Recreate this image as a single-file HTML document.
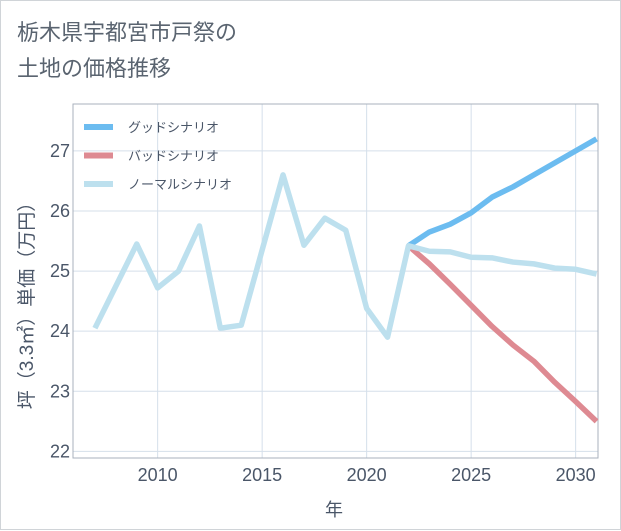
<!DOCTYPE html>
<html><head><meta charset="utf-8"><style>
html,body{margin:0;padding:0;background:#fff}
#wrap{position:relative;width:619px;height:528px;border:1px solid #d0d4d8;background:#fff;font-family:"Liberation Sans","Noto Sans CJK JP",sans-serif}
#title{position:absolute;left:16px;top:14px;font-size:22px;line-height:36px;color:#5a6470}
svg{position:absolute;left:0;top:0}
</style></head><body>
<div id="wrap">
<div id="title">栃木県宇都宮市戸祭の<br>土地の価格推移</div>
<svg id="chart" width="621" height="530"></svg>
</div>
<script>
const years=[2007,2008,2009,2010,2011,2012,2013,2014,2015,2016,2017,2018,2019,2020,2021,2022,2023,2024,2025,2026,2027,2028,2029,2030,2031];
const normal=[24.05,24.75,25.45,24.72,25.0,25.75,24.05,24.1,25.35,26.6,25.43,25.88,25.68,24.38,23.9,25.42,25.33,25.32,25.23,25.22,25.15,25.12,25.05,25.03,24.95];
const fcYears=[2022,2023,2024,2025,2026,2027,2028,2029,2030,2031];
const good=[25.42,25.65,25.78,25.97,26.23,26.4,26.6,26.8,27.0,27.2];
const bad=[25.42,25.12,24.78,24.43,24.08,23.77,23.5,23.15,22.83,22.5];
const xTicks=[2010,2015,2020,2025,2030];
const yTicks=[22,23,24,25,26,27];
const legendLabels=["グッドシナリオ","バッドシナリオ","ノーマルシナリオ"];
const NS="http://www.w3.org/2000/svg";
const svg=document.getElementById('chart');
const L=72,R=597,T=103,B=457,x0=2005.95,x1=2031.07,y0=21.89,y1=27.78;
const sx=v=>L+(v-x0)/(x1-x0)*(R-L);
const sy=v=>B-(v-y0)/(y1-y0)*(B-T);
function mk(tag,attrs){const e=document.createElementNS(NS,tag);for(const k in attrs)e.setAttribute(k,attrs[k]);svg.appendChild(e);return e;}
for(const t of xTicks){const g=mk('line',{x1:sx(t),x2:sx(t),y1:T,y2:B,stroke:'#d5dfea','stroke-width':1});


const tx=mk('text',{x:sx(t),y:B+23,'text-anchor':'middle','font-size':18,fill:'#4a5668'});tx.textContent=t;

}
for(const t of yTicks){const g=mk('line',{x1:L,x2:R,y1:sy(t),y2:sy(t),stroke:'#d5dfea','stroke-width':1});


const tx=mk('text',{x:L-3,y:sy(t)+6,'text-anchor':'end','font-size':18,fill:'#4a5668'});tx.textContent=t;

}
const fr=mk('rect',{x:L,y:T,width:R-L,height:B-T,fill:'none',stroke:'#a9b2bc','stroke-width':1});


function line(xs,ys,color,name){const p=mk('polyline',{points:xs.map((x,i)=>sx(x)+','+sy(ys[i])).join(' '),fill:'none',stroke:color,'stroke-width':5.5,'stroke-linejoin':'round'});

}
line(fcYears,bad,'#de8a92','bad-scenario-line');
line(fcYears,good,'#6cbcf0','good-scenario-line');
line(years,normal,'#bde0ee','normal-scenario-line');
const cols=['#6cbcf0','#de8a92','#bde0ee'];
legendLabels.forEach((lb,i)=>{const y=126+i*28.5;
const l=mk('line',{x1:83,x2:112,y1:y,y2:y,stroke:cols[i],'stroke-width':6});


const t=mk('text',{x:127,y:y+5,'font-size':13,fill:'#4a5668'});t.textContent=lb;

});
const xt=mk('text',{x:333,y:515,'text-anchor':'middle','font-size':18,fill:'#4a5668'});xt.textContent='年';


const yt=mk('text',{x:0,y:0,'text-anchor':'middle','font-size':19,fill:'#4a5668',transform:'translate(32,300) rotate(-90)'});yt.textContent='坪（3.3㎡）単価（万円）';


</script>
</body></html>
